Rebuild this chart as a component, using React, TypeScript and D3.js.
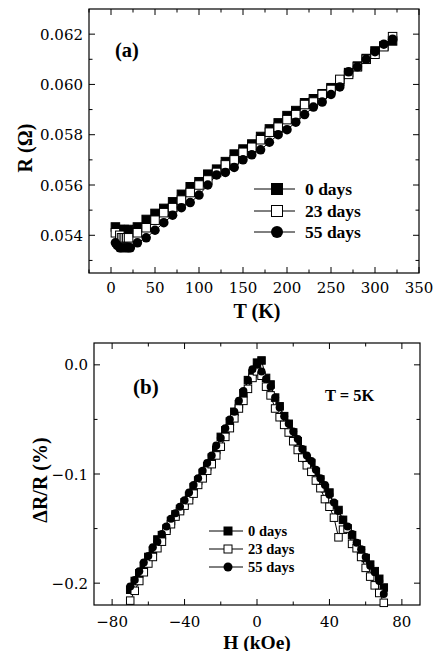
import React from "react";
import * as d3 from "d3";

// ---------- Panel (a) data ----------
const tA0 = [5, 10, 15, 20, 30, 40, 50, 60, 70, 80, 90, 100, 110, 120, 130, 140, 150, 160, 170, 180, 190, 200, 210, 220, 230, 240, 250, 260, 270, 280, 290, 300, 310, 320];
const rA0 = [0.05433, 0.05423, 0.05423, 0.05423, 0.05433, 0.05463, 0.05487, 0.05507, 0.05533, 0.05563, 0.05593, 0.05613, 0.05643, 0.05663, 0.05693, 0.05723, 0.05743, 0.05763, 0.05793, 0.05823, 0.05847, 0.05876, 0.05896, 0.05927, 0.05943, 0.05963, 0.05987, 0.06013, 0.06047, 0.06073, 0.06103, 0.06133, 0.06153, 0.06173];
const tA23 = [5, 10, 12, 14, 16, 18, 20, 30, 40, 50, 60, 70, 80, 90, 100, 110, 120, 130, 140, 150, 160, 170, 180, 190, 200, 210, 220, 230, 240, 250, 260, 270, 280, 290, 300, 310, 320];
const rA23 = [0.0541, 0.054, 0.0539, 0.0539, 0.0539, 0.0539, 0.0539, 0.0541, 0.0543, 0.0546, 0.0549, 0.0551, 0.0554, 0.0557, 0.056, 0.0562, 0.0565, 0.0568, 0.057, 0.0573, 0.0575, 0.0578, 0.0581, 0.0583, 0.0586, 0.0588, 0.0592, 0.0593, 0.0596, 0.0598, 0.0602, 0.0604, 0.0607, 0.061, 0.0612, 0.0615, 0.0619];
const tA55 = [5, 7, 10, 12, 15, 18, 20, 22, 30, 40, 50, 60, 70, 80, 90, 100, 110, 120, 130, 140, 150, 160, 170, 180, 190, 200, 210, 220, 230, 240, 250, 260, 270, 280, 290, 300, 310, 320];
const rA55 = [0.0537, 0.0536, 0.0535, 0.0535, 0.0535, 0.0535, 0.0535, 0.0535, 0.0537, 0.0539, 0.0542, 0.0545, 0.0548, 0.0551, 0.0553, 0.0556, 0.056, 0.0564, 0.0565, 0.0567, 0.057, 0.0572, 0.0574, 0.0577, 0.058, 0.0582, 0.0585, 0.0588, 0.0591, 0.0593, 0.0596, 0.0599, 0.0605, 0.0607, 0.061, 0.0613, 0.0616, 0.0618];
const xTicksA = [0, 50, 100, 150, 200, 250, 300, 350];
const yTicksA = [0.054, 0.056, 0.058, 0.06, 0.062];

// ---------- Panel (b) data ----------
const hB = [-70, -67.5, -65, -62.5, -60, -57.5, -55, -52.5, -50, -47.5, -45, -42.5, -40, -37.5, -35, -32.5, -30, -27.5, -25, -22.5, -20, -17.5, -15, -12.5, -10, -7.5, -5, -2.5, 0, 2.5, 5, 7.5, 10, 12.5, 15, 17.5, 20, 22.5, 25, 27.5, 30, 32.5, 35, 37.5, 40, 42.5, 45, 47.5, 50, 52.5, 55, 57.5, 60, 62.5, 65, 67.5, 70];
const mrB0 = [-0.206, -0.198, -0.191, -0.184, -0.176, -0.17, -0.16, -0.156, -0.15, -0.143, -0.137, -0.132, -0.126, -0.12, -0.112, -0.106, -0.099, -0.093, -0.085, -0.078, -0.066, -0.06, -0.052, -0.043, -0.036, -0.026, -0.014, -0.008, 0.002, 0.004, -0.012, -0.018, -0.03, -0.038, -0.047, -0.054, -0.062, -0.07, -0.078, -0.086, -0.09, -0.098, -0.105, -0.113, -0.117, -0.128, -0.133, -0.142, -0.15, -0.156, -0.164, -0.17, -0.177, -0.183, -0.189, -0.196, -0.204];
const mrB23 = [-0.216, -0.207, -0.198, -0.19, -0.182, -0.176, -0.168, -0.162, -0.152, -0.146, -0.139, -0.134, -0.129, -0.124, -0.118, -0.11, -0.104, -0.097, -0.091, -0.083, -0.075, -0.066, -0.058, -0.049, -0.04, -0.033, -0.022, -0.012, -0.006, -0.01, -0.02, -0.028, -0.04, -0.048, -0.055, -0.062, -0.07, -0.078, -0.085, -0.092, -0.098, -0.106, -0.113, -0.123, -0.13, -0.14, -0.158, -0.151, -0.15, -0.164, -0.168, -0.176, -0.186, -0.194, -0.202, -0.209, -0.218];
const mrB55 = [-0.203, -0.197, -0.189, -0.181, -0.175, -0.167, -0.162, -0.155, -0.148, -0.141, -0.136, -0.13, -0.124, -0.117, -0.11, -0.104, -0.097, -0.09, -0.083, -0.074, -0.067, -0.058, -0.05, -0.043, -0.033, -0.024, -0.014, -0.004, 0.0, -0.006, -0.013, -0.02, -0.03, -0.039, -0.047, -0.054, -0.061, -0.068, -0.077, -0.083, -0.088, -0.096, -0.104, -0.11, -0.119, -0.126, -0.134, -0.142, -0.148, -0.155, -0.163, -0.169, -0.176, -0.184, -0.19, -0.198, -0.21];
const xTicksB = [-80, -40, 0, 40, 80];
const yTicksB = [-0.2, -0.1, 0.0];

const seriesNames = ["0 days", "23 days", "55 days"];

const TICK_FONT = "'DejaVu Serif', serif";
const BOLD_FONT = "'Liberation Serif', 'Times New Roman', serif";

type Kind = "fsq" | "osq" | "circ";
const kinds: Kind[] = ["fsq", "osq", "circ"];

function Marker({ kind, x, y, s }: { kind: Kind; x: number; y: number; s: number }) {
  if (kind === "circ") return <circle cx={x} cy={y} r={s / 2} fill="#000" />;
  return (
    <rect
      x={x - s / 2}
      y={y - s / 2}
      width={s}
      height={s}
      fill={kind === "fsq" ? "#000" : "#fff"}
      stroke="#000"
      strokeWidth={1}
    />
  );
}

function Frame({ x0, x1, y0, y1, xs, ys, xMajor, xMinor, yMajor, yMinor }: any) {
  const M = 6, m = 3.5;
  return (
    <g stroke="#000" strokeWidth={1} fill="none">
      <rect x={x0} y={y0} width={x1 - x0} height={y1 - y0} strokeWidth={1.2} />
      {xMajor.map((v: number) => (
        <g key={"xM" + v}>
          <line x1={xs(v)} x2={xs(v)} y1={y1} y2={y1 - M} />
          <line x1={xs(v)} x2={xs(v)} y1={y0} y2={y0 + M} />
        </g>
      ))}
      {xMinor.map((v: number) => (
        <g key={"xm" + v}>
          <line x1={xs(v)} x2={xs(v)} y1={y1} y2={y1 - m} />
          <line x1={xs(v)} x2={xs(v)} y1={y0} y2={y0 + m} />
        </g>
      ))}
      {yMajor.map((v: number) => (
        <g key={"yM" + v}>
          <line x1={x0} x2={x0 + M} y1={ys(v)} y2={ys(v)} />
          <line x1={x1} x2={x1 - M} y1={ys(v)} y2={ys(v)} />
        </g>
      ))}
      {yMinor.map((v: number) => (
        <g key={"ym" + v}>
          <line x1={x0} x2={x0 + m} y1={ys(v)} y2={ys(v)} />
          <line x1={x1} x2={x1 - m} y1={ys(v)} y2={ys(v)} />
        </g>
      ))}
    </g>
  );
}

export default function App() {
  // Panel (a)
  const xA = d3.scaleLinear().domain([-25, 350]).range([89, 419]);
  const yA = d3.scaleLinear().domain([0.0525, 0.063]).range([273, 9]);
  const lineA = d3.line<[number, number]>().x((d) => xA(d[0])).y((d) => yA(d[1]));
  const seriesA = [
    d3.zip(tA0, rA0) as [number, number][],
    d3.zip(tA23, rA23) as [number, number][],
    d3.zip(tA55, rA55) as [number, number][],
  ];
  const xMinorA = [-25, 25, 75, 125, 175, 225, 275, 325];
  const yMinorA = [0.053, 0.055, 0.057, 0.059, 0.061];

  // Panel (b)
  const xB = d3.scaleLinear().domain([-90, 90]).range([94, 420]);
  const yB = d3.scaleLinear().domain([-0.22, 0.02]).range([605, 343]);
  const lineB = d3.line<[number, number]>().x((d) => xB(d[0])).y((d) => yB(d[1]));
  const seriesB = [
    d3.zip(hB, mrB0) as [number, number][],
    d3.zip(hB, mrB23) as [number, number][],
    d3.zip(hB, mrB55) as [number, number][],
  ];
  const xMinorB = [-60, -20, 20, 60];
  const yMinorB = [-0.15, -0.05];

  const fmtA = d3.format(".3f");
  const fmtB = (v: number) => d3.format(".1f")(v).replace("-", "\u2212");
  const fmtBx = (v: number) => String(v).replace("-", "\u2212");

  const legA = [189, 211, 232];
  const legB = [531, 549, 567];

  return (
    <svg
      width={434}
      height={651}
      style={{ position: "absolute", left: 0, top: 0, background: "#fff" }}
    >
      <rect x={0} y={0} width={434} height={651} fill="#fff" />
      {/* ---------------- Panel (a) ---------------- */}
      <Frame x0={89} x1={419} y0={9} y1={273} xs={xA} ys={yA} xMajor={xTicksA} xMinor={xMinorA} yMajor={yTicksA} yMinor={yMinorA} />
      {seriesA.map((s, i) => (
        <path key={"la" + i} d={lineA(s) || ""} fill="none" stroke="#000" strokeWidth={1} />
      ))}
      {seriesA.map((s, i) =>
        s.map((d, j) => <Marker key={"ma" + i + "-" + j} kind={kinds[i]} x={xA(d[0])} y={yA(d[1])} s={i === 2 ? 9.5 : 8.5} />)
      )}
      {xTicksA.map((v) => (
        <text key={"xta" + v} x={xA(v)} y={293} textAnchor="middle" fontFamily={TICK_FONT} fontSize={15}>
          {v}
        </text>
      ))}
      {yTicksA.map((v) => (
        <text key={"yta" + v} x={83} y={yA(v) + 5.5} textAnchor="end" fontFamily={TICK_FONT} fontSize={15}>
          {fmtA(v)}
        </text>
      ))}
      <text x={257} y={318} textAnchor="middle" fontFamily={BOLD_FONT} fontWeight="bold" fontSize={20}>
        T (K)
      </text>
      <text transform="translate(32,148) rotate(-90)" textAnchor="middle" fontFamily={BOLD_FONT} fontWeight="bold" fontSize={20}>
        R (Ω)
      </text>
      <text x={115} y={57} fontFamily={BOLD_FONT} fontWeight="bold" fontSize={20.5}>
        (a)
      </text>
      {legA.map((y, i) => (
        <g key={"lga" + i}>
          <line x1={254} x2={295} y1={y} y2={y} stroke="#000" strokeWidth={1} />
          <Marker kind={kinds[i]} x={277} y={y} s={i === 2 ? 12 : 11} />
          <text x={305} y={y + 6} fontFamily={BOLD_FONT} fontWeight="bold" fontSize={17.5}>
            {seriesNames[i]}
          </text>
        </g>
      ))}

      {/* ---------------- Panel (b) ---------------- */}
      <Frame x0={94} x1={420} y0={343} y1={605} xs={xB} ys={yB} xMajor={xTicksB} xMinor={xMinorB} yMajor={yTicksB} yMinor={yMinorB} />
      {seriesB.map((s, i) => (
        <path key={"lb" + i} d={lineB(s) || ""} fill="none" stroke="#000" strokeWidth={1} />
      ))}
      {seriesB.map((s, i) =>
        s.map((d, j) => <Marker key={"mb" + i + "-" + j} kind={kinds[i]} x={xB(d[0])} y={yB(d[1])} s={i === 2 ? 8 : 7.5} />)
      )}
      {xTicksB.map((v) => (
        <text key={"xtb" + v} x={xB(v)} y={626.5} textAnchor="middle" fontFamily={TICK_FONT} fontSize={15}>
          {fmtBx(v)}
        </text>
      ))}
      {yTicksB.map((v) => (
        <text key={"ytb" + v} x={88} y={yB(v) + 5.5} textAnchor="end" fontFamily={TICK_FONT} fontSize={15}>
          {fmtB(v)}
        </text>
      ))}
      <text x={257} y={648.5} textAnchor="middle" fontFamily={BOLD_FONT} fontWeight="bold" fontSize={19.5}>
        H (kOe)
      </text>
      <text transform="translate(47,480) rotate(-90)" textAnchor="middle" fontFamily={BOLD_FONT} fontWeight="bold" fontSize={20}>
        ΔR/R (%)
      </text>
      <text x={133} y={394} fontFamily={BOLD_FONT} fontWeight="bold" fontSize={21}>
        (b)
      </text>
      <text x={325} y={401} fontFamily={BOLD_FONT} fontWeight="bold" fontSize={16.5}>
        T = 5K
      </text>
      {legB.map((y, i) => (
        <g key={"lgb" + i}>
          <line x1={209} x2={243} y1={y} y2={y} stroke="#000" strokeWidth={1} />
          <Marker kind={kinds[i]} x={228} y={y} s={i === 2 ? 9 : 8} />
          <text x={248} y={y + 5} fontFamily={BOLD_FONT} fontWeight="bold" fontSize={14.5}>
            {seriesNames[i]}
          </text>
        </g>
      ))}
    </svg>
  );
}
